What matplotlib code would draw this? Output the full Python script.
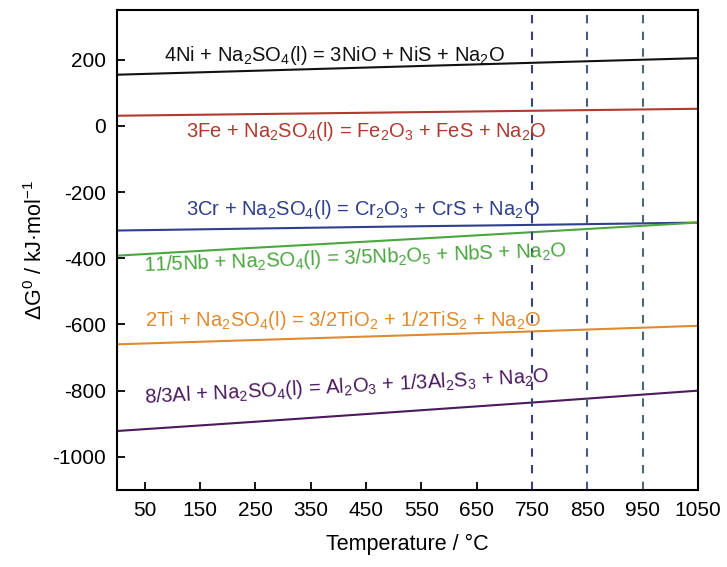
import matplotlib
matplotlib.use("Agg")
from matplotlib import pyplot as plt

plt.rcParams["font.family"] = ["Liberation Sans", "DejaVu Sans"]
plt.rcParams["mathtext.fontset"] = "custom"
plt.rcParams["mathtext.rm"] = "Liberation Sans"
plt.rcParams["mathtext.it"] = "Liberation Sans"
plt.rcParams["mathtext.default"] = "regular"
plt.rcParams["axes.unicode_minus"] = False

# temperature (C) and Gibbs free energy (kJ/mol)
temp = [0, 250, 500, 750, 1050]
dg_ni = [155, 167, 179, 191, 205]
dg_fe = [31, 36, 41, 46, 52]
dg_cr = [-316, -310, -304, -299, -292]
dg_nb = [-392, -368, -345, -321, -292]
dg_ti = [-660, -647, -634, -621, -604]
dg_al = [-922, -894, -865, -836, -800]

labels = [
    r"4Ni + Na$_2$SO$_4$(l) = 3NiO + NiS + Na$_2$O",
    r"3Fe + Na$_2$SO$_4$(l) = Fe$_2$O$_3$ + FeS + Na$_2$O",
    r"3Cr + Na$_2$SO$_4$(l) = Cr$_2$O$_3$ + CrS + Na$_2$O",
    r"11/5Nb + Na$_2$SO$_4$(l) = 3/5Nb$_2$O$_5$ + NbS + Na$_2$O",
    r"2Ti + Na$_2$SO$_4$(l) = 3/2TiO$_2$ + 1/2TiS$_2$ + Na$_2$O",
    r"8/3Al + Na$_2$SO$_4$(l) = Al$_2$O$_3$ + 1/3Al$_2$S$_3$ + Na$_2$O",
]
colors = ["#111111", "#b03a2e", "#2f3f8c", "#4aa63f", "#e08a30", "#4b1a5e"]
# label anchor (x, y, rotation) in data units
label_pos = [(85, 212, 0), (125, -17, 0), (125, -252, 0),
             (48, -398, 2), (50, -588, 0), (48, -788, 3)]

marks = [750, 850, 950]
mark_colors = ["#35457a", "#4a5a80", "#4c6870"]

fig = plt.figure(figsize=(7.27, 5.67), dpi=100)
ax = fig.add_axes([0.161, 0.136, 0.799, 0.846])

series = [dg_ni, dg_fe, dg_cr, dg_nb, dg_ti, dg_al]
for ys, c in zip(series, colors):
    ax.plot(temp, ys, color=c, lw=1.5)

for m, c in zip(marks, mark_colors):
    ax.axvline(m, color=c, lw=1.5, ls=(0, (4, 4)))

for lab, c, (x, y, r) in zip(labels, colors, label_pos):
    ax.text(x, y, lab, color=c, fontsize=14.5, va="center", ha="left", rotation=r)

ax.set_xlim(0, 1050)
ax.set_ylim(-1100, 350)
ax.set_xticks(range(50, 1051, 100))
ax.set_yticks(range(-1000, 201, 200))
ax.tick_params(direction="in", length=6, width=1.3, labelsize=15, pad=8)
for s in ax.spines.values():
    s.set_linewidth(1.5)

ax.set_xlabel("Temperature / °C", fontsize=15.5, labelpad=10)
ax.set_ylabel(r"ΔG$^0$ / kJ·mol$^{-1}$", fontsize=15.5, labelpad=4)

fig.savefig("out.png", dpi=100)
